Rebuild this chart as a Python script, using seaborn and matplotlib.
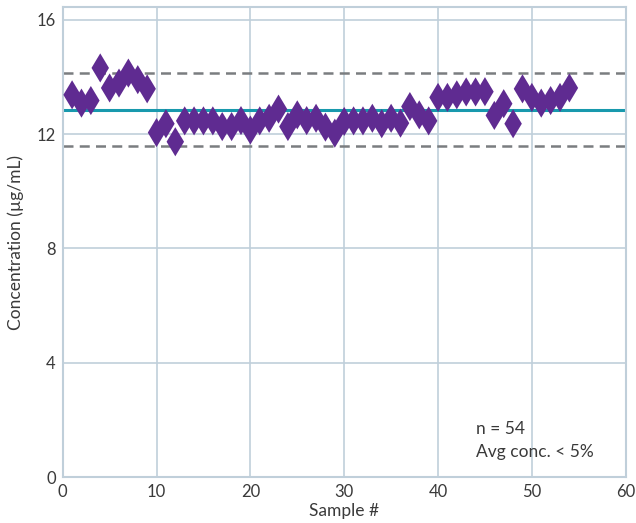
import numpy as np
import pandas as pd
import matplotlib
matplotlib.use("Agg")
import matplotlib.pyplot as plt
import seaborn as sns

# Measured concentration per sample (µg/mL)
sample_ids = list(range(1, 55))
concentrations = [
    13.37, 13.08, 13.17, 14.31, 13.61, 13.78, 14.13, 13.90, 13.58,
    12.05, 12.36, 11.73, 12.46, 12.46, 12.46, 12.46, 12.26, 12.26, 12.47, 12.14,
    12.46, 12.55, 12.87, 12.26, 12.67, 12.47, 12.55, 12.24, 12.03, 12.44,
    12.46, 12.46, 12.55, 12.36, 12.55, 12.38, 12.96, 12.67, 12.46,
    13.28, 13.28, 13.37, 13.47, 13.47, 13.48, 12.65, 13.06, 12.36, 13.58,
    13.28, 13.08, 13.17, 13.28, 13.61,
]
x_ticks = [0, 10, 20, 30, 40, 50, 60]
y_ticks = [0, 4, 8, 12, 16]
annotation_lines = ["n = 54", "Avg conc. < 5%"]

PURPLE = "#5f2b91"
TEAL = "#1899ad"
DASH = "#7a7d80"
GRID = "#c0cfda"
TEXT = "#3a3a3a"

df = pd.DataFrame({"sample": sample_ids, "conc": concentrations})
mean_conc = float(np.mean(concentrations))

sns.set_style("whitegrid")
plt.rcParams["font.family"] = ["Lato", "DejaVu Sans"]

fig = plt.figure(figsize=(6.36, 5.23), dpi=100)
ax = fig.add_axes([0.0986, 0.0874, 0.8852, 0.8992])

# Mean and ±10% limit lines
ax.axhline(mean_conc, color=TEAL, lw=2.2, zorder=2)
ax.axhline(mean_conc * 1.1, color=DASH, lw=1.8, ls=(0, (4, 2.5)), zorder=2)
ax.axhline(mean_conc * 0.9, color=DASH, lw=1.8, ls=(0, (4, 2.5)), zorder=2)

sns.scatterplot(data=df, x="sample", y="conc", marker="d", s=220,
                color=PURPLE, edgecolor="none", linewidth=0, ax=ax, zorder=3)

ax.set_xlim(0, 60)
ax.set_ylim(0, 16.44)
ax.set_xticks(x_ticks)
ax.set_yticks(y_ticks)
ax.tick_params(axis="both", length=0, pad=5, labelsize=12, labelcolor=TEXT)
ax.grid(True, color=GRID, lw=1.2)
ax.set_axisbelow(True)
for sp in ax.spines.values():
    sp.set_color(GRID)
    sp.set_linewidth(1.5)

ax.set_xlabel("Sample #", fontsize=12.5, color=TEXT, labelpad=2)
ax.set_ylabel("Concentration (µg/mL)", fontsize=12.5, color=TEXT, labelpad=9)

ax.text(44.05, 1.68, annotation_lines[0], fontsize=12.5, color=TEXT, va="center", ha="left")
ax.text(44.05, 0.88, annotation_lines[1], fontsize=12.5, color=TEXT, va="center", ha="left")

fig.savefig("out.png", dpi=100)
